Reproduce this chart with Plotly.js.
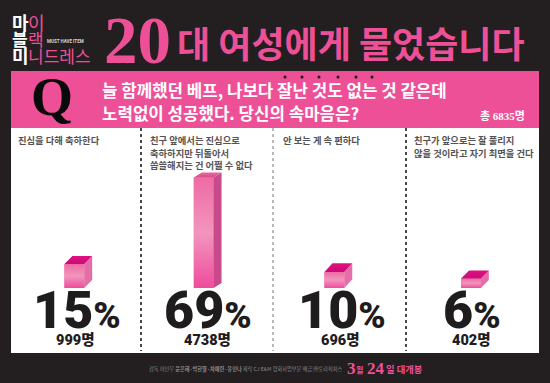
<!DOCTYPE html>
<html><head><meta charset="utf-8">
<script src="https://cdn.plot.ly/plotly-3.0.1.min.js"></script>
<style>html,body{margin:0;padding:0;background:#231f20}#c{width:550px;height:383px}</style>
</head><body><div id="c"></div>
<script>
const percentValues = [15, 69, 10, 6];
const respondentCounts = ["999", "4738", "696", "402"];
const categoryLines = [
  ["진심을 다해 축하한다"],
  ["친구 앞에서는 진심으로", "축하하지만 뒤돌아서", "씁쓸해지는 건 어쩔 수 없다"],
  ["안 보는 게 속 편하다"],
  ["친구가 앞으로는 잘 풀리지", "않을 것이라고 자기 최면을 건다"]
];
const questionLines = ["늘 함께했던 베프, 나보다 잘난 것도 없는 것 같은데", "노력없이 성공했다. 당신의 속마음은?"];
const totalText = "총 <span style='font-family:Liberation Serif'>6835</span>명";
const pink = "#ee5098", ink = "#1f1c1d", bg = "#231f20";

const W = 550, H = 383, L = 11, R = 539, T = 128, B = 288;
const px = v => (v - L) / (R - L), py = v => (B - v) / (B - T);

const barWidth = 0.15;
const barShift = [-0.095, -0.115, -0.125, -0.09];
const depthX = [0.06, 0.06, 0.06, 0.06];
const depthY = [5, 3.2, 5.5, 5];
const topColors = [["#e0107f", "#c80c78"], ["#e9659f", "#d84a8c"], ["#e0107f", "#c80c78"], ["#e0107f", "#c80c78"]];

const traces = [{
  type: "bar", x: [0, 1, 2, 3], y: percentValues, width: barWidth, offset: barShift,
  marker: { color: pink, line: { width: 0 } }, hoverinfo: "skip"
}];
percentValues.forEach((v, i) => {
  const a = i + barShift[i], b = a + barWidth, dx = depthX[i], dy = depthY[i];
  traces.push({
    type: "scatter", mode: "none", fill: "toself", hoverinfo: "skip",
    x: [a, b, b, a, a], y: [0, 0, v, v, 0],
    fillgradient: { type: "vertical", colorscale: [[0, "#ef4c9b"], [0.5, "#f295bd"], [1, "#ee6ba3"]] }
  });
  traces.push({
    type: "scatter", mode: "none", fill: "toself", hoverinfo: "skip",
    x: [b, b + dx, b + dx, b, b], y: [0, dy, v + dy, v, 0],
    fillcolor: i === 1 ? "#c94a8a" : "#e56ea8"
  });
  traces.push({
    type: "scatter", mode: "none", fill: "toself", hoverinfo: "skip",
    x: [a, b, b + dx, a + dx, a], y: [v, v, v + dy, v + dy, v],
    fillgradient: { type: "vertical", colorscale: [[0, topColors[i][1]], [1, topColors[i][0]]] }
  });
});

const ann = [];
const label = (text, x, y, size, color, family, anchor, extra) => ann.push(Object.assign({
  text, xref: "paper", yref: "paper", x: px(x), y: py(y), xanchor: anchor || "left", yanchor: "middle",
  showarrow: false, align: "left", borderpad: 0, font: Object.assign({ size, color, family: family || "Noto Sans CJK KR" }, extra || {})
}));

/* logo */
label("<b>마</b>", 11, 22, 18, "#ffffff");
label("이", 27, 22, 18, pink);
label("<b>블</b>", 11, 38, 17, "#ffffff");
label("랙", 27, 38, 17, pink);
label("<b>미</b>", 11, 55, 18, "#ffffff");
label("니드레스", 27, 55, 17, pink);
label("<b>MUST HAVE ITEM</b>", 46, 42, 4.5, "#d8d4d4", "Roboto");
/* headline */
label("<b>20</b>", 103, 40, 67, pink, "Liberation Serif");
label("<b>대 여성에게 물었습니다</b>", 176, 42, 36, pink);
/* question */
label("<b>Q</b>", 52, 97, 54, "#0b0a0a", "Liberation Serif", "center");
label("<b>" + questionLines[0] + "</b>", 101, 90, 16.8, "#ffffff");
label("<b>" + questionLines[1] + "</b>", 101, 113, 16.8, "#ffffff");
label("<b>" + totalText + "</b>", 526, 115, 11, "#ffffff", "Noto Sans CJK KR", "right");
/* option labels */
const optionX = [17, 149, 282, 413];
categoryLines.forEach((lines, i) => lines.forEach((t, j) =>
  label("<b>" + t + "</b>", optionX[i], 140 + j * 12.6, 9.3, "#555253")));
/* values */
const pctX = [77, 208, 342, 472], cntX = [75, 207, 340, 471];
percentValues.forEach((v, i) => {
  label(v + "<span style='font-size:37px'>%</span>", pctX[i], 310, 52, ink, "Roboto", "center", { weight: 900 });
  label(respondentCounts[i] + "명", cntX[i], 340, 14.5, ink, "Roboto, Noto Sans CJK KR", "center", { weight: 900 });
});
/* footer */
label("감독 허인무 <b>윤은혜·박한별·차예련·유인나</b> 제작 CJ E&M 영화사업부문 배급 ㈜토라픽처스", 343, 369, 5.2, "#8d8989", "Noto Sans CJK KR", "right");
label("<b>3</b>", 346, 368, 17, pink, "Liberation Serif");
label("<b>월</b>", 355, 369, 8, pink);
label("<b>24</b>", 366, 368, 17, pink, "Liberation Serif");
label("<b>일 대개봉</b>", 385, 369, 9.3, pink);

const shapes = [
  { type: "rect", xref: "paper", yref: "paper", x0: px(11), x1: px(539), y0: py(128), y1: py(353),
    fillcolor: "#ffffff", line: { width: 0 }, layer: "below" },
  { type: "rect", xref: "paper", yref: "paper", x0: px(11), x1: px(539), y0: py(128), y1: py(71),
    fillcolor: pink, line: { width: 0 }, layer: "below" }
];
[[141, 1.6, "#1f1c1d"], [273, 1, "#777777"], [406, 1.6, "#1f1c1d"]].forEach(d => shapes.push({
  type: "line", xref: "paper", yref: "paper", x0: px(d[0]), x1: px(d[0]), y0: py(128), y1: py(351),
  line: { width: d[1], color: d[2], dash: "dot" }, layer: "below"
}));
[285, 302, 319, 338, 356, 372].forEach(x => shapes.push({
  type: "circle", xref: "paper", yref: "paper", x0: px(x - 1.5), x1: px(x + 1.5), y0: py(75.5), y1: py(78.5),
  fillcolor: "#111111", line: { width: 0 }
}));

Plotly.newPlot("c", traces, {
  width: W, height: H, showlegend: false, paper_bgcolor: bg, plot_bgcolor: "rgba(0,0,0,0)",
  margin: { l: L, r: W - R, t: T, b: H - B, pad: 0 },
  xaxis: { range: [-0.5, 3.5], visible: false, fixedrange: true },
  yaxis: { range: [0, 100], visible: false, fixedrange: true },
  shapes, annotations: ann, barmode: "overlay"
}, { displayModeBar: false, staticPlot: true });
</script></body></html>
